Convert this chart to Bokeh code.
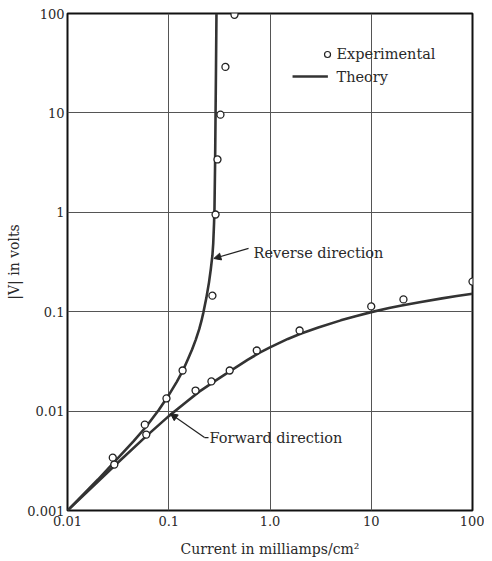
from bokeh.plotting import figure
from bokeh.models import FixedTicker, Arrow, NormalHead
from bokeh.core.properties import value
from bokeh.embed import file_html
from bokeh.resources import INLINE

# ---- data ----
rev_exp_x = [0.028, 0.058, 0.095, 0.137, 0.27, 0.29, 0.303, 0.324, 0.363, 0.446]
rev_exp_y = [0.0034, 0.0073, 0.0134, 0.0256, 0.145, 0.95, 3.4, 9.6, 29.0, 97.0]

fwd_exp_x = [0.029, 0.060, 0.184, 0.264, 0.40, 0.74, 1.96, 10.0, 20.8, 100.0]
fwd_exp_y = [0.0029, 0.0058, 0.0161, 0.0199, 0.0256, 0.0407, 0.0647, 0.113, 0.133, 0.201]

rev_th_x = [0.01, 0.02, 0.03, 0.045, 0.06, 0.08, 0.1, 0.12, 0.137, 0.155, 0.17, 0.185, 0.2,
            0.21, 0.22, 0.235, 0.25, 0.26, 0.27, 0.275, 0.28, 0.283, 0.287, 0.29, 0.293, 0.296]
rev_th_y = [0.001, 0.00205, 0.0032, 0.0050, 0.0070, 0.0103, 0.0145, 0.0197, 0.0252, 0.0334,
            0.0417, 0.0524, 0.0667, 0.0803, 0.0985, 0.137, 0.1985, 0.266, 0.37, 0.487, 0.764,
            1.1, 3.2, 10.0, 30.0, 100.0]

fwd_th_x = [0.01, 0.02, 0.03, 0.06, 0.1, 0.15, 0.2, 0.3, 0.4, 0.6, 0.8, 1.0, 1.5, 2.0, 3.0,
            5.0, 7.0, 10.0, 15.0, 20.0, 30.0, 50.0, 70.0, 100.0]
fwd_th_y = [0.001, 0.00196, 0.0029, 0.0056, 0.0089, 0.0124, 0.0157, 0.0207, 0.0251, 0.0327,
            0.0390, 0.0438, 0.0532, 0.0600, 0.0694, 0.0818, 0.0902, 0.0990, 0.1087, 0.1155,
            0.1247, 0.1361, 0.1436, 0.1515]

x_ticks = [0.01, 0.1, 1.0, 10.0, 100.0]
x_labels = ["0.01", "0.1", "1.0", "10", "100"]
y_ticks = [0.001, 0.01, 0.1, 1.0, 10.0, 100.0]
y_labels = ["0.001", "0.01", "0.1", "1", "10", "100"]

FONT = "DejaVu Serif"
INK = "#2a2a2a"

p = figure(x_axis_type="log", y_axis_type="log",
           x_range=(0.01, 100), y_range=(0.001, 100),
           frame_width=405, frame_height=497,
           min_border_left=67, min_border_top=13, min_border_right=12, min_border_bottom=46,
           output_backend="svg", toolbar_location=None,
           background_fill_color="white", border_fill_color="white")

p.outline_line_color = "#111"
p.outline_line_width = 2

for ax, ticks, labels in ((p.xaxis[0], x_ticks, x_labels), (p.yaxis[0], y_ticks, y_labels)):
    ax.ticker = FixedTicker(ticks=ticks, minor_ticks=[])
    ax.major_label_overrides = dict(zip(ticks, labels))
    ax.axis_line_color = None
    ax.major_tick_line_color = None
    ax.minor_tick_line_color = None
    ax.major_tick_out = 0
    ax.major_tick_in = 0
    ax.minor_tick_out = 0
    ax.minor_tick_in = 0
    ax.major_label_text_font = FONT
    ax.major_label_text_font_size = "13px"
    ax.major_label_text_color = INK
    ax.axis_label_text_font = FONT
    ax.axis_label_text_font_size = "14px"
    ax.axis_label_text_font_style = "normal"
    ax.axis_label_text_color = INK

p.xaxis.axis_label = "Current in milliamps/cm²"
p.yaxis.axis_label = "|V| in volts"
p.xaxis.major_label_standoff = 5
p.yaxis.major_label_standoff = 3
p.xaxis.axis_label_standoff = 12
p.yaxis.axis_label_standoff = 2

p.xgrid.ticker = FixedTicker(ticks=x_ticks, minor_ticks=[])
p.ygrid.ticker = FixedTicker(ticks=y_ticks, minor_ticks=[])
for g in (p.xgrid[0], p.ygrid[0]):
    g.grid_line_color = "#555555"
    g.grid_line_width = 1
    g.grid_line_alpha = 1.0

# theory curves
p.line(rev_th_x, rev_th_y, line_color="#333333", line_width=2.6, line_join="round")
p.line(fwd_th_x, fwd_th_y, line_color="#333333", line_width=2.6, line_join="round")

# experimental points
for xs, ys in ((rev_exp_x, rev_exp_y), (fwd_exp_x, fwd_exp_y)):
    p.scatter(xs, ys, marker="circle", size=7, fill_color="white",
              line_color="#222222", line_width=1.3)

# legend (drawn manually)
p.scatter([3.70], [38.7], marker="circle", size=6, fill_color="white",
          line_color="#222222", line_width=1.2)
p.line([1.67, 3.73], [23.2, 23.2], line_color="#333333", line_width=2.6)
p.text([4.54, 4.54], [38.7, 23.2], text=["Experimental", "Theory"],
       text_font=value(FONT), text_font_size="14.5px", text_color=INK,
       text_baseline="middle", text_align="left")

# annotations
p.text([0.687, 0.2526], [0.394, 0.00542], text=["Reverse direction", "Forward direction"],
       text_font=value(FONT), text_font_size="14.5px", text_color=INK,
       text_baseline="middle", text_align="left")

p.add_layout(Arrow(end=NormalHead(size=7, fill_color="#222222", line_color="#222222"),
                   x_start=0.614, y_start=0.433, x_end=0.279, y_end=0.343,
                   line_color="#222222", line_width=1.2))
p.line([0.247, 0.2255], [0.00542, 0.00542], line_color="#222222", line_width=1.2)
p.add_layout(Arrow(end=NormalHead(size=7, fill_color="#222222", line_color="#222222"),
                   x_start=0.2255, y_start=0.00542, x_end=0.104, y_end=0.0094,
                   line_color="#222222", line_width=1.2))

open("out.html", "w").write(file_html(p, INLINE))
